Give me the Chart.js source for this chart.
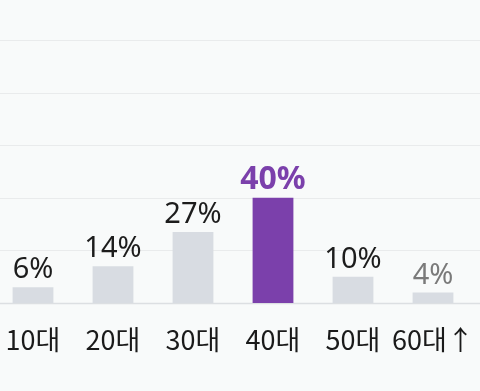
<!DOCTYPE html>
<html>
<head>
<meta charset="utf-8">
<script src="https://cdn.jsdelivr.net/npm/chart.js@4"></script>
<style>
  html, body { margin: 0; padding: 0; background: #f8fafa; overflow: hidden; }
  #wrap { position: absolute; left: -7px; top: 0; width: 494px; height: 391px; }
</style>
</head>
<body>
<div id="wrap"><canvas id="chart"></canvas></div>
<script>
const ages = ["10대", "20대", "30대", "40대", "50대", "60대↑"];
const shares = [6, 14, 27, 40, 10, 4];
const gridTicks = [0, 20, 40, 60, 80, 100];

const highlight = 3;
const faded = 5;

const barColors = shares.map((v, i) => (i === highlight ? "#7b40ab" : "#d8dce2"));

// grid lines drawn across the whole canvas width
const fullGrid = {
  id: "fullGrid",
  beforeDatasetsDraw(chart) {
    const ctx = chart.ctx;
    const y = chart.scales.y;
    ctx.save();
    gridTicks.forEach(t => {
      const py = Math.round(y.getPixelForValue(t)) + 0.5;
      ctx.strokeStyle = t === 0 ? "#dcdfe2" : "#e9ebec";
      ctx.lineWidth = t === 0 ? 1.5 : 1;
      ctx.beginPath();
      ctx.moveTo(0, py);
      ctx.lineTo(chart.width, py);
      ctx.stroke();
    });
    ctx.restore();
  }
};

const valueLabels = {
  id: "valueLabels",
  afterDatasetsDraw(chart) {
    const ctx = chart.ctx;
    const meta = chart.getDatasetMeta(0);
    ctx.save();
    ctx.textAlign = "center";
    ctx.textBaseline = "alphabetic";
    meta.data.forEach((bar, i) => {
      if (i === highlight) {
        ctx.font = "bold 32px 'Noto Sans'";
        ctx.fillStyle = "#7b40ab";
      } else {
        ctx.font = "29px 'Noto Sans'";
        ctx.fillStyle = i === faded ? "#7a7a7a" : "#1c1c1c";
      }
      ctx.fillText(shares[i] + "%", bar.x, bar.y - 9);
    });
    ctx.restore();
  }
};

new Chart(document.getElementById("chart"), {
  type: "bar",
  data: {
    labels: ages,
    datasets: [{
      data: shares,
      backgroundColor: barColors,
      barPercentage: 0.51,
      categoryPercentage: 1.0,
      borderWidth: 0
    }]
  },
  options: {
    responsive: true,
    maintainAspectRatio: false,
    animation: false,
    layout: { padding: { top: 40, right: 14, left: 0, bottom: 15 } },
    plugins: { legend: { display: false }, tooltip: { enabled: false } },
    scales: {
      x: {
        border: { display: false },
        grid: { display: false, drawTicks: false },
        ticks: {
          color: "#1a1a1a",
          padding: 0,
          autoSkip: false,
          maxRotation: 0,
          minRotation: 0,
          font: { family: "'Noto Sans CJK KR'", size: 27, lineHeight: 2.7 }
        }
      },
      y: {
        min: 0,
        max: 100,
        display: false
      }
    }
  },
  plugins: [fullGrid, valueLabels]
});
</script>
</body>
</html>
